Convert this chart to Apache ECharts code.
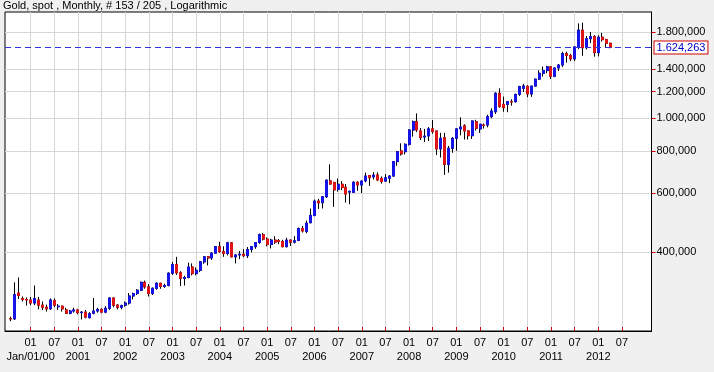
<!DOCTYPE html>
<html><head><meta charset="utf-8">
<script src="https://cdn.jsdelivr.net/npm/echarts@6/dist/echarts.min.js"></script>
<style>html,body{margin:0;padding:0;background:#f0f0f0;}#c{width:714px;height:372px;}</style>
</head><body><div id="c"></div>
<script>
// ---- chart texts ----
const chartTitle = 'Gold, spot , Monthly, # 153 / 205 , Logarithmic';
const firstLabel = 'Jan/01/00';
// ---- axis: months from Jul 1999 to Feb 2013 ----
const axisStartYear = 1999, axisStartMonth = 7, axisMonthCount = 164;
const dataOffset = 1; // first candle = Aug 1999
const tickFrom = '2000-01', tickTo = '2012-07';
// ---- y axis ----
const yTickValues = [400, 600, 800, 1000, 1200, 1400, 1800];
const yMinValue = 233.8, yMaxValue = 2067;
const lastPrice = 1624.263;
const lastPriceLabel = '1.624,263';
// ---- monthly candles Aug 1999 .. Apr 2012 ----
const opens = [
254.5,254,303,292,290,
289,283,289,279,275,272,288,276,277,270,264,268,
270,265,266,256,264,268,271,266,273,293,279,275,
279,283,297,302,309,326,316,302,313,324,317,319,
347,368,348,335,337,362,346,354,375,388,385,398,
416,402,397,427,388,393,395,391,408,416,428,452,
438,422,435,434,431,416,435,429,434,471,462,490,
515,568,562,585,652,645,616,637,624,604,603,646,
634,652,676,670,679,663,651,664,674,744,800,796,
837,923,977,917,880,886,930,917,811,876,730,815,
872,930,950,917,888,977,930,955,955,1011,1046,1186,
1100,1100,1120,1120,1178,1227,1244,1181,1246,1307,1360,1385,
1421,1332,1410,1439,1556,1536,1500,1628,1826,1620,1722,1746,
1566,1740,1711,1669];
const closes = [
254,300,298,290,289,
283,292,279,275,272,289,279,277,272,264,268,270,
265,266,257,263,268,271,266,273,293,279,275,278,
283,297,302,309,326,316,302,313,324,317,319,347,
368,348,335,337,362,346,354,375,388,385,398,416,
402,397,427,388,393,395,391,408,416,428,452,438,
422,435,429,431,416,435,429,433,471,463,488,515,
568,561,585,655,638,613,637,623,596,607,646,634,
651,674,666,678,656,649,666,674,744,796,784,837,
923,977,923,876,885,930,913,811,872,730,815,872,
930,942,917,888,982,934,960,952,1011,1051,1186,1083,
1075,1120,1118,1178,1241,1247,1181,1246,1307,1360,1385,1421,
1332,1410,1439,1556,1536,1500,1628,1826,1620,1722,1746,1566,
1740,1711,1669,1624];
const lows = [
250,252,291,286,278,
279,279,271,270,267,270,275,270,267,263,262,265,
262,253,255,255,262,265,264,264,270,275,271,271,
276,280,290,299,307,312,296,299,310,312,314,317,
343,343,318,319,335,342,342,350,370,366,380,397,
399,388,392,387,371,382,387,385,400,410,424,434,
417,411,424,423,414,414,418,425,432,458,456,488,
512,538,540,580,636,546,606,612,562,556,600,609,
600,646,630,658,651,640,648,642,670,723,775,781,
830,882,910,862,850,856,900,778,765,679,690,790,
801,890,865,865,868,920,905,932,940,1000,1030,1075,
1046,1042,1090,1114,1165,1197,1155,1157,1243,1300,1330,1360,
1308,1324,1381,1420,1462,1478,1478,1604,1532,1600,1672,1523,
1527,1688,1627,1613];
const highs = [
258,326,337,296,294,
295,319,295,286,280,292,292,281,278,274,270,274,
272,268,270,266,293,274,273,277,294,294,281,280,
286,303,304,311,328,330,322,315,326,325,323,349,
375,388,352,341,373,371,361,377,390,390,401,417,
430,417,430,428,395,404,409,415,418,429,455,457,
443,439,447,438,436,442,437,447,474,479,497,540,
574,576,588,658,730,648,663,651,638,610,650,650,
654,690,678,692,691,672,683,678,746,800,843,842,
928,985,1034,935,930,942,988,920,905,905,828,880,
935,1006,960,920,985,990,962,965,1024,1070,1195,1227,
1160,1126,1139,1181,1249,1265,1253,1248,1310,1388,1424,1431,
1425,1411,1447,1575,1577,1553,1632,1912,1921,1755,1803,1764,
1764,1792,1723,1677];

// ---- build ----
const categories = [];
for (let i = 0; i < axisMonthCount; i++) {
  const t = (axisStartMonth - 1) + i;
  const y = axisStartYear + Math.floor(t / 12);
  const m = (t % 12) + 1;
  categories.push(y + '-' + (m < 10 ? '0' + m : '' + m));
}
const lg = Math.log10;
const fullData = [], bodyData = [];
for (let i = 0; i < axisMonthCount; i++) {
  const k = i - dataOffset;
  if (k >= 0 && k < opens.length) {
    const o = lg(opens[k]), c = lg(closes[k]);
    fullData.push([o, c, lg(lows[k]), lg(highs[k])]);
    bodyData.push([o, c, Math.min(o, c), Math.max(o, c)]);
  } else { fullData.push('-'); bodyData.push('-'); }
}
function fmtPrice(v) {
  const n = Math.round(v);
  const s = String(n).replace(/\B(?=(\d{3})+(?!\d))/g, '.');
  return s + ',000';
}
const inRange = (val) => val >= tickFrom && val <= tickTo;
const isTick = (idx, val) => inRange(val) && (val.slice(5) === '01' || val.slice(5) === '07');
const isJan = (idx, val) => inRange(val) && val.slice(5) === '01';
const FONT = 'Liberation Sans, Arial, sans-serif';
const priceLineStyle = {color: '#3030dc', type: [6, 4], width: 1, opacity: 1};

const chart = echarts.init(document.getElementById('c'), null, {renderer: 'canvas'});
chart.setOption({
  animation: false,
  backgroundColor: '#f0f0f0',
  title: {text: chartTitle, left: 3, top: 0, padding: 0,
    textStyle: {fontSize: 11, fontWeight: 'normal', color: '#000', fontFamily: FONT}},
  grid: {left: 5, right: 62.5, top: 12, bottom: 41, show: true, backgroundColor: '#fff',
    borderColor: '#000', borderWidth: 1},
  xAxis: [{
    type: 'category', data: categories, boundaryGap: true,
    axisLine: {show: true, lineStyle: {color: '#000', width: 1}},
    axisTick: {show: true, inside: true, alignWithLabel: true, length: 4, interval: isTick,
      lineStyle: {color: '#d00000'}},
    axisLabel: {interval: isTick, showMinLabel: true, showMaxLabel: true, hideOverlap: false,
      fontSize: 11, margin: 6, color: '#000', fontFamily: FONT,
      formatter: (val) => val.slice(5)},
    splitLine: {show: true, interval: isTick, alignWithLabel: true, lineStyle: {color: '#d6d6d6', width: 1}}
  }, {
    type: 'category', data: categories, boundaryGap: true, position: 'bottom', gridIndex: 0,
    axisLine: {show: false}, axisTick: {show: false}, splitLine: {show: false},
    axisLabel: {interval: isJan, showMinLabel: true, showMaxLabel: true, hideOverlap: false,
      fontSize: 11, margin: 20, color: '#000', fontFamily: FONT,
      formatter: (val) => (val === tickFrom ? firstLabel : val.slice(0, 4))}
  }],
  yAxis: {
    type: 'value', position: 'right', min: lg(yMinValue), max: lg(yMaxValue),
    axisLine: {show: true, lineStyle: {color: '#000'}},
    axisTick: {show: true, length: 4, customValues: yTickValues.map(lg), lineStyle: {color: '#d00000'}},
    axisLabel: {customValues: yTickValues.map(lg), margin: 5, fontSize: 11, color: '#000', fontFamily: FONT,
      formatter: (v) => fmtPrice(Math.pow(10, v))},
    splitLine: {show: true, lineStyle: {color: '#d6d6d6', width: 1}}
  },
  series: [
    {type: 'candlestick', xAxisIndex: 0, data: fullData, barWidth: 2.5, silent: true,
      itemStyle: {color: '#000', color0: '#000', borderColor: '#000', borderColor0: '#000', borderWidth: 1}},
    {type: 'candlestick', xAxisIndex: 0, data: bodyData, barWidth: 2.5, silent: true,
      itemStyle: {color: '#1414e6', color0: '#e01414', borderColor: '#1414e6', borderColor0: '#e01414', borderWidth: 1},
      markLine: {silent: true, symbol: ['none', 'none'], animation: false,
        lineStyle: priceLineStyle,
        label: {show: true, position: 'end', distance: 3, formatter: lastPriceLabel, color: '#0000c8',
          backgroundColor: '#fff', borderColor: '#d00000', borderWidth: 1, padding: [1, 2, 0, 2],
          fontSize: 11, fontFamily: FONT},
        data: [{yAxis: lg(lastPrice), lineStyle: priceLineStyle}]}
    }
  ]
});
</script></body></html>
